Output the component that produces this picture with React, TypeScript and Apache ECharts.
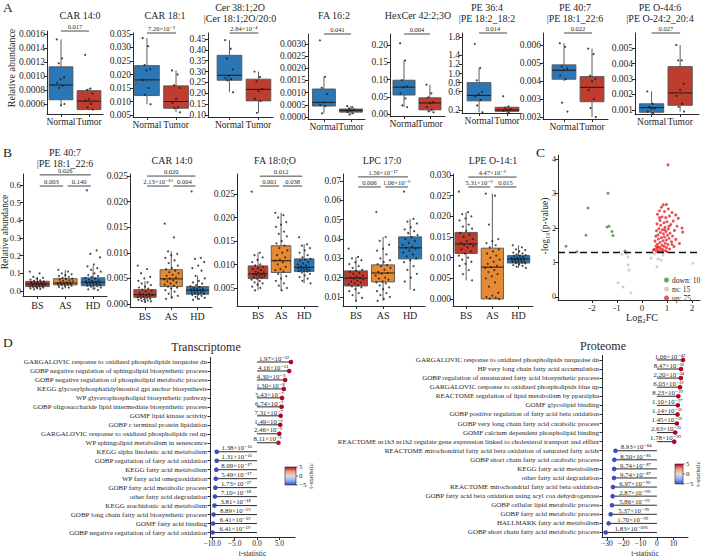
import React, { useEffect, useRef } from "react";
import * as echarts from "echarts";

const FONT = '"Liberation Serif", "Times New Roman", "DejaVu Serif", serif';
const INK = "#1f1f1f";
const AXIS = "#2b2b2b";

// ---------------- Panel A ----------------
const A_CATS = ["Normal", "Tumor"];
const A_FILL = ["#2b77b5", "#be3d2e"];

const A1_TITLE = ["CAR 14:0"];
const A1_TICKS = [0.0006, 0.0008, 0.001, 0.0012, 0.0014, 0.0016];
const A1_BOX = [[0.00058, 0.00066, 0.00087, 0.00113, 0.00152], [0.00051, 0.00052, 0.00064, 0.00079, 0.00082]];
const A1_PTS = [[0.00152, 0.00125, 0.00118, 0.00098, 0.00095, 0.0009, 0.00086, 0.00083, 0.0006, 0.00058], [0.0013, 0.00082, 0.0008, 0.00075, 0.00067, 0.00065, 0.0006, 0.00055, 0.00052]];
const A1_P = "0.017";

const A2_TITLE = ["CAR 18:1"];
const A2_TICKS = [0.005, 0.01, 0.015, 0.02, 0.025, 0.03, 0.035];
const A2_BOX = [[0.009, 0.0122, 0.018, 0.0233, 0.0335], [0.006, 0.0075, 0.01, 0.0158, 0.0215]];
const A2_PTS = [[0.0335, 0.0305, 0.0235, 0.022, 0.0215, 0.018, 0.015, 0.0125, 0.009], [0.0215, 0.02, 0.016, 0.015, 0.011, 0.0095, 0.0078, 0.0075, 0.006]];
const A2_P = "7.26×10⁻³";

const A3_TITLE = ["Cer 38:1;2O", "|Cer 18:1;2O/20:0"];
const A3_TICKS = [0.1, 0.15, 0.2, 0.25, 0.3, 0.35, 0.4, 0.45];
const A3_BOX = [[0.205, 0.26, 0.283, 0.375, 0.445], [0.11, 0.165, 0.218, 0.265, 0.3]];
const A3_PTS = [[0.445, 0.405, 0.36, 0.31, 0.28, 0.27, 0.265, 0.26, 0.205], [0.3, 0.275, 0.255, 0.22, 0.21, 0.175, 0.165, 0.11]];
const A3_P = "2.84×10⁻⁴";

const A4_TITLE = ["FA 16:2"];
const A4_TICKS = [0, 0.0005, 0.001, 0.0015, 0.002, 0.0025, 0.003];
const A4_BOX = [[0.00015, 0.00045, 0.0006, 0.00115, 0.00165], [0.0001, 0.0002, 0.00027, 0.00033, 0.00045]];
const A4_PTS = [[0.00315, 0.00165, 0.0012, 0.00095, 0.0006, 0.0005, 0.00045, 0.00015], [0.00045, 0.0004, 0.00035, 0.0003, 0.00027, 0.0002, 0.00015, 0.0001]];
const A4_P = "0.041";

const A5_TITLE = ["HexCer 42:2;3O"];
const A5_TICKS = [0, 0.05, 0.1, 0.15, 0.2];
const A5_BOX = [[0.02, 0.055, 0.078, 0.098, 0.155], [0.005, 0.012, 0.032, 0.047, 0.085]];
const A5_PTS = [[0.205, 0.155, 0.098, 0.08, 0.078, 0.06, 0.045, 0.025, 0.02], [0.085, 0.06, 0.048, 0.035, 0.032, 0.02, 0.012, 0.008, 0.005]];
const A5_P = "0.004";

const A6_TITLE = ["PE 36:4", "|PE 18:2_18:2"];
const A6_TICKS = [0.2, 0.4, 0.6, 0.8, 1.0, 1.2, 1.4, 1.6, 1.8];
const A6_BOX = [[0.15, 0.4, 0.52, 0.8, 1.12], [0.12, 0.17, 0.2, 0.26, 0.28]];
const A6_PTS = [[1.65, 1.12, 0.85, 0.6, 0.55, 0.5, 0.42, 0.3, 0.15], [0.5, 0.28, 0.25, 0.22, 0.2, 0.18, 0.15, 0.12]];
const A6_P = "0.014";

const A7_TITLE = ["PE 40:7", "|PE 18:1_22:6"];
const A7_TICKS = [0.002, 0.003, 0.004, 0.005, 0.006];
const A7_BOX = [[0.004, 0.0041, 0.0046, 0.0049, 0.0061], [0.002, 0.00285, 0.00365, 0.00425, 0.0058]];
const A7_PTS = [[0.0061, 0.0059, 0.0048, 0.0047, 0.0046, 0.0043, 0.0041, 0.0028, 0.0023], [0.0058, 0.0055, 0.0043, 0.0041, 0.004, 0.0035, 0.003, 0.0025, 0.002]];
const A7_P = "0.022";

const A8_TITLE = ["PE O-44:6", "|PE O-24:2_20:4"];
const A8_TICKS = [0.001, 0.002, 0.003, 0.004, 0.005];
const A8_BOX = [[0.0006, 0.00085, 0.00115, 0.0014, 0.0022], [0.0009, 0.0013, 0.0021, 0.0038, 0.0052]];
const A8_PTS = [[0.0022, 0.0014, 0.0012, 0.0011, 0.0011, 0.0009, 0.0008, 0.0006], [0.0052, 0.0042, 0.0042, 0.0027, 0.0023, 0.0019, 0.0014, 0.0012, 0.0009]];
const A8_P = "0.027";

// ---------------- Panel B ----------------
const B_CATS = ["BS", "AS", "HD"];
const B_FILL = ["#be3d2e", "#e68a33", "#2b77b5"];

const B1_TITLE = ["PE 40:7", "|PE 18:1_22:6"];
const B1_TICKS = [0, 0.1, 0.2, 0.3, 0.4, 0.5, 0.6];
const B1_BOX = [[0.01, 0.025, 0.04, 0.055, 0.08], [0.015, 0.035, 0.045, 0.07, 0.12], [0.005, 0.03, 0.05, 0.075, 0.14]];
const B1_PTS = [
  [0.11, 0.1, 0.08, 0.075, 0.07, 0.065, 0.06, 0.058, 0.055, 0.052, 0.05, 0.048, 0.045, 0.043, 0.042, 0.04, 0.04, 0.038, 0.036, 0.035, 0.033, 0.03, 0.028, 0.026, 0.025, 0.022, 0.02, 0.018, 0.015, 0.012, 0.01],
  [0.12, 0.11, 0.1, 0.095, 0.09, 0.085, 0.08, 0.075, 0.07, 0.068, 0.065, 0.06, 0.058, 0.055, 0.052, 0.05, 0.048, 0.046, 0.045, 0.044, 0.042, 0.04, 0.038, 0.036, 0.035, 0.033, 0.03, 0.027, 0.024, 0.02, 0.015],
  [0.57, 0.23, 0.21, 0.19, 0.15, 0.14, 0.13, 0.12, 0.11, 0.1, 0.09, 0.085, 0.08, 0.075, 0.07, 0.065, 0.06, 0.058, 0.055, 0.052, 0.05, 0.048, 0.045, 0.042, 0.04, 0.038, 0.035, 0.032, 0.03, 0.028, 0.025, 0.02, 0.015, 0.01, 0.005],
];
const B1_SIG = [[0, 2, 0.657, "0.026"], [0, 1, 0.594, "0.003"], [1, 2, 0.594, "0.140"]];

const B2_TITLE = ["CAR 14:0"];
const B2_TICKS = [0, 0.005, 0.01, 0.015, 0.02, 0.025];
const B2_BOX = [[0.0004, 0.0013, 0.0018, 0.0028, 0.0045], [0.001, 0.0034, 0.0049, 0.0067, 0.0103], [0.0008, 0.0019, 0.0027, 0.0034, 0.0055]];
const B2_PTS = [
  [0.0075, 0.0068, 0.006, 0.0053, 0.005, 0.0045, 0.0042, 0.004, 0.0037, 0.0034, 0.0032, 0.003, 0.0028, 0.0026, 0.0024, 0.0022, 0.002, 0.0019, 0.0018, 0.0017, 0.0016, 0.0015, 0.0014, 0.0013, 0.0012, 0.0011, 0.001, 0.0009, 0.0008, 0.0007, 0.0006, 0.0005, 0.0004],
  [0.0157, 0.013, 0.0103, 0.0098, 0.0095, 0.009, 0.0085, 0.008, 0.0075, 0.007, 0.0068, 0.0065, 0.0062, 0.006, 0.0057, 0.0055, 0.0052, 0.005, 0.0048, 0.0046, 0.0044, 0.0042, 0.004, 0.0038, 0.0036, 0.0034, 0.0032, 0.003, 0.0027, 0.0024, 0.002, 0.0016, 0.0013, 0.001],
  [0.022, 0.009, 0.0088, 0.0082, 0.0075, 0.007, 0.0065, 0.0055, 0.005, 0.0045, 0.0042, 0.004, 0.0037, 0.0035, 0.0033, 0.0031, 0.003, 0.0029, 0.0028, 0.0027, 0.0026, 0.0025, 0.0024, 0.0023, 0.0022, 0.0021, 0.002, 0.0019, 0.0018, 0.0016, 0.0014, 0.0012, 0.001, 0.0008],
];
const B2_SIG = [[0, 2, 0.025, "0.020"], [0, 1, 0.02305, "2.13×10⁻¹⁰"], [1, 2, 0.02305, "0.004"]];

const B3_TITLE = ["FA 18:0;O"];
const B3_TICKS = [0.005, 0.01, 0.015, 0.02, 0.025];
const B3_BOX = [[0.0045, 0.007, 0.008, 0.0097, 0.0125], [0.0045, 0.0083, 0.0108, 0.014, 0.021], [0.006, 0.0085, 0.0094, 0.0112, 0.0143]];
const B3_PTS = [
  [0.0255, 0.0125, 0.012, 0.0115, 0.011, 0.0105, 0.01, 0.0098, 0.0095, 0.0092, 0.009, 0.0088, 0.0085, 0.0083, 0.0082, 0.008, 0.0079, 0.0078, 0.0076, 0.0075, 0.0073, 0.0072, 0.007, 0.0068, 0.0065, 0.0062, 0.006, 0.0057, 0.0053, 0.005, 0.0045],
  [0.021, 0.0205, 0.02, 0.019, 0.0185, 0.018, 0.017, 0.0165, 0.016, 0.015, 0.0145, 0.014, 0.0135, 0.013, 0.0125, 0.012, 0.0115, 0.011, 0.0108, 0.0105, 0.01, 0.0095, 0.009, 0.0088, 0.0085, 0.008, 0.0075, 0.007, 0.0065, 0.006, 0.0055, 0.005, 0.0045],
  [0.0158, 0.0143, 0.014, 0.0135, 0.013, 0.0125, 0.012, 0.0115, 0.0112, 0.011, 0.0108, 0.0105, 0.0102, 0.01, 0.0098, 0.0096, 0.0094, 0.0093, 0.0092, 0.009, 0.0089, 0.0088, 0.0087, 0.0086, 0.0085, 0.0083, 0.008, 0.0077, 0.0073, 0.007, 0.0065, 0.006],
];
const B3_SIG = [[0, 2, 0.0288, "0.012"], [0, 1, 0.0267, "0.001"], [1, 2, 0.0267, "0.038"]];

const B4_TITLE = ["LPC 17:0"];
const B4_TICKS = [0.01, 0.02, 0.03, 0.04, 0.05, 0.06, 0.07];
const B4_BOX = [[0.008, 0.0157, 0.0198, 0.0235, 0.0307], [0.008, 0.0178, 0.0224, 0.0266, 0.041], [0.0137, 0.0297, 0.0354, 0.0411, 0.0504]];
const B4_PTS = [
  [0.035, 0.0307, 0.03, 0.029, 0.028, 0.027, 0.026, 0.025, 0.024, 0.0235, 0.023, 0.0225, 0.022, 0.021, 0.0205, 0.02, 0.0198, 0.0195, 0.019, 0.0185, 0.018, 0.0175, 0.017, 0.0165, 0.016, 0.0155, 0.015, 0.014, 0.013, 0.012, 0.011, 0.0095, 0.008],
  [0.054, 0.041, 0.039, 0.037, 0.035, 0.034, 0.032, 0.03, 0.029, 0.028, 0.027, 0.0265, 0.026, 0.025, 0.024, 0.023, 0.0225, 0.022, 0.021, 0.02, 0.0195, 0.019, 0.018, 0.0175, 0.017, 0.016, 0.015, 0.014, 0.013, 0.012, 0.011, 0.01, 0.009, 0.008],
  [0.0645, 0.0504, 0.049, 0.048, 0.046, 0.045, 0.044, 0.043, 0.042, 0.041, 0.04, 0.039, 0.038, 0.037, 0.036, 0.0355, 0.035, 0.034, 0.033, 0.032, 0.031, 0.03, 0.029, 0.028, 0.026, 0.024, 0.022, 0.02, 0.018, 0.0137],
];
const B4_SIG = [[0, 2, 0.0721, "1.56×10⁻¹⁷"], [0, 1, 0.0669, "0.006"], [1, 2, 0.0669, "1.06×10⁻⁹"]];

const B5_TITLE = ["LPE O-14:1"];
const B5_TICKS = [0, 0.005, 0.01, 0.015, 0.02, 0.025, 0.03];
const B5_BOX = [[0.0045, 0.011, 0.0133, 0.0161, 0.021], [0, 0, 0.0077, 0.0123, 0.0255], [0.0075, 0.0087, 0.0097, 0.0105, 0.013]];
const B5_PTS = [
  [0.026, 0.021, 0.0205, 0.02, 0.0195, 0.019, 0.018, 0.0175, 0.017, 0.0165, 0.016, 0.0155, 0.015, 0.0145, 0.014, 0.0135, 0.0133, 0.013, 0.0128, 0.0125, 0.012, 0.0115, 0.011, 0.0105, 0.01, 0.0095, 0.009, 0.0085, 0.008, 0.007, 0.006, 0.0045],
  [0.0255, 0.025, 0.018, 0.0145, 0.014, 0.0135, 0.013, 0.0125, 0.012, 0.0115, 0.011, 0.0105, 0.01, 0.0095, 0.009, 0.0085, 0.008, 0.0077, 0.0075, 0.007, 0.0065, 0.006, 0.0055, 0.005, 0.004, 0.003, 0.0015, 0.0008, 0.0005, 0.0003, 0.0001, 0],
  [0.013, 0.0125, 0.012, 0.0118, 0.0115, 0.0112, 0.011, 0.0108, 0.0106, 0.0105, 0.0104, 0.0102, 0.01, 0.0099, 0.0098, 0.0097, 0.0096, 0.0095, 0.0094, 0.0093, 0.0092, 0.0091, 0.009, 0.0089, 0.0088, 0.0087, 0.0086, 0.0084, 0.0082, 0.008, 0.0078, 0.0075],
];
const B5_SIG = [[0, 2, 0.0295, "4.47×10⁻⁹"], [0, 1, 0.0271, "5.31×10⁻⁹"], [1, 2, 0.0271, "0.015"]];

// ---------------- Panel C (volcano) ----------------
const VOL_XTICKS = [-2, -1, 0, 1, 2];
const VOL_YTICKS = [0, 1, 2, 3, 4];
const P_THRESHOLD = 0.05;
const VOL_DOWN = [[-2.16, 2.58], [-1.36, 3.01], [-1.4, 2.03], [-1.32, 2.05], [-1.2, 1.9], [-1.16, 1.78], [-2.24, 1.79], [-3.04, 1.47], [-2.6, 1.31], [-0.68, 1.33]];
const VOL_NS = [[-0.8, 1.24], [-0.56, 1.16], [-0.56, 0.93], [-0.52, 0.78], [-0.96, 0.41], [-0.76, 0.29], [-0.44, 0.12], [0.36, 1.13], [0.6, 0.88], [0.64, 1.1], [0.76, 1.07], [0.84, 1.22], [2.04, 0.98], [-0.62, 1.26], [0.5, 1.25]];
const VOL_UP = [
  [1.04, 3.83], [0.85, 2.67], [0.98, 2.68], [0.78, 2.6], [1.05, 2.55], [0.7, 2.5], [1.2, 2.45], [0.9, 2.48], [1.35, 2.38], [0.62, 2.4],
  [1.1, 2.35], [0.8, 2.32], [0.95, 2.3], [1.45, 2.28], [0.72, 2.22], [1.25, 2.2], [1.0, 2.18], [0.88, 2.15], [0.6, 2.12], [1.15, 2.1],
  [0.75, 2.08], [1.4, 2.05], [1.6, 2.0], [0.92, 2.02], [0.68, 1.98], [1.05, 1.97], [0.82, 1.95], [1.3, 1.93], [0.58, 1.92], [0.96, 1.9],
  [1.63, 1.88], [0.74, 1.87], [1.12, 1.85], [0.86, 1.83], [0.64, 1.8], [1.02, 1.79], [1.22, 1.77], [0.55, 1.76], [0.9, 1.74], [0.78, 1.72],
  [1.08, 1.7], [0.66, 1.68], [1.35, 1.67], [0.97, 1.65], [0.84, 1.63], [0.52, 1.62], [1.18, 1.6], [0.72, 1.58], [0.93, 1.56], [1.5, 1.55],
  [0.62, 1.53], [1.04, 1.52], [0.8, 1.5], [0.56, 1.48], [0.88, 1.47], [1.28, 1.46], [0.7, 1.44], [0.98, 1.43], [0.6, 1.41], [0.76, 1.4],
  [1.1, 1.39], [0.5, 1.38], [0.84, 1.37], [0.66, 1.35], [0.94, 1.34], [0.58, 1.33], [0.73, 1.32], [0.46, 1.36], [0.82, 1.31], [1.0, 1.31],
  [0.64, 1.45], [1.2, 1.52], [0.9, 1.95], [0.7, 2.3], [1.08, 2.05],
];

// ---------------- Panel D ----------------
const T_LABELS = [
  "GARGALOVIC response to oxidized phospholipids turquoise dn",
  "GOBP negative regulation of sphingolipid biosynthetic process",
  "GOBP negative regulation of phospholipid metabolic process",
  "KEGG glycosylphosphatidylinositol gpi anchor biosynthesis",
  "WP glycerophospholipid biosynthetic pathway",
  "GOBP oligosaccharide lipid intermediate biosynthetic process",
  "GOMF lipid kinase activity",
  "GOBP c terminal protein lipidation",
  "GARGALOVIC response to oxidized phospholipids red up",
  "WP sphingolipid metabolism in senescence",
  "KEGG alpha linolenic acid metabolism",
  "GOBP regulation of fatty acid oxidation",
  "KEGG fatty acid metabolism",
  "WP fatty acid omegaoxidation",
  "GOBP fatty acid metabolic process",
  "other fatty acid degradation",
  "KEGG arachidonic acid metabolism",
  "GOBP long chain fatty acid biosynthetic process",
  "GOMF fatty acid binding",
  "GOBP negative regulation of fatty acid oxidation",
];
const T_TSTAT = [7.6, 7.2, 6.3, 6.0, 5.6, 5.5, 5.3, 5.2, 5.0, 4.8, -9.0, -9.0, -9.1, -9.2, -9.3, -9.4, -9.5, -9.7, -9.8, -9.9];
const T_PVAL = ["1.97×10⁻¹²", "4.16×10⁻¹¹", "4.30×10⁻⁹", "1.30×10⁻⁸", "5.43×10⁻⁷", "6.74×10⁻⁷", "7.31×10⁻⁷", "1.49×10⁻⁶", "2.46×10⁻⁶", "8.11×10⁻⁶", "1.38×10⁻¹⁶", "1.31×10⁻¹⁶", "8.09×10⁻¹⁷", "5.49×10⁻¹⁷", "1.73×10⁻¹⁷", "7.10×10⁻¹⁸", "3.81×10⁻¹⁸", "8.89×10⁻¹⁹", "6.41×10⁻¹⁹", "6.41×10⁻¹⁹"];
const T_XTICKS = [-10, -5, 0, 5];

const P_LABELS = [
  "GARGALOVIC response to oxidized phospholipids turquoise dn",
  "HP very long chain fatty acid accumulation",
  "GOBP regulation of unsaturated fatty acid biosynthetic process",
  "GARGALOVIC response to oxidized phospholipids blue up",
  "REACTOME regulation of lipid metabolism by pparalpha",
  "GOMF glycolipid binding",
  "GOBP positive regulation of fatty acid beta oxidation",
  "GOBP very long chain fatty acid catabolic process",
  "GOMF calcium dependent phospholipid binding",
  "REACTOME nr1h3 nr1h2 regulate gene expression linked to cholesterol transport and efflux",
  "REACTOME mitochondrial fatty acid beta oxidation of saturated fatty acids",
  "GOBP short chain fatty acid catabolic process",
  "KEGG fatty acid metabolism",
  "other fatty acid degradation",
  "REACTOME mitochondrial fatty acid beta oxidation",
  "GOBP fatty acid beta oxidation using acyl coa dehydrogenase",
  "GOBP cellular lipid metabolic process",
  "GOBP fatty acid metabolic process",
  "HALLMARK fatty acid metabolism",
  "GOBP short chain fatty acid metabolic process",
];
const P_TSTAT = [15.7, 14.5, 14.4, 13.9, 12.9, 12.6, 12.4, 12.0, 11.0, 10.4, -24.9, -25.6, -25.7, -25.8, -26.4, -26.6, -27.0, -27.8, -29.0, -30.8];
const P_PVAL = ["1.06×10⁻⁴²", "8.47×10⁻³⁶", "2.20×10⁻³⁴", "6.03×10⁻³²", "8.23×10⁻²⁹", "1.10×10⁻²⁷", "1.14×10⁻²⁶", "1.45×10⁻²⁵", "2.63×10⁻²¹", "1.78×10⁻²⁰", "8.93×10⁻⁸⁴", "8.50×10⁻⁸⁶", "9.74×10⁻⁸⁷", "9.74×10⁻⁸⁷", "6.97×10⁻⁹⁰", "2.87×10⁻⁹⁰", "5.86×10⁻⁹²", "5.37×10⁻⁹⁵", "1.70×10⁻⁹⁹", "1.83×10⁻¹⁰⁶"];
const P_XTICKS = [-30, -20, -10, 0, 10];

const CB_TICKS = [5, 0, -5];

// ---------------- helpers ----------------
const CW_STOPS = [[59, 76, 192], [98, 130, 234], [141, 176, 254], [184, 208, 249], [221, 221, 221], [245, 196, 173], [244, 154, 123], [222, 96, 77], [180, 4, 38]];
function coolwarm(t: number) {
  const u = Math.max(0, Math.min(1, (t + 5) / 10)) * (CW_STOPS.length - 1);
  const i = Math.min(CW_STOPS.length - 2, Math.floor(u));
  const f = u - i;
  const c = CW_STOPS[i].map((v, k) => Math.round(v + (CW_STOPS[i + 1][k] - v) * f));
  return `rgb(${c[0]},${c[1]},${c[2]})`;
}
const minus = (v: number, d = 0) => (v < 0 ? "−" : "") + Math.abs(v).toFixed(d);
const jitter = (k: number, w: number) => ((((k * 37) % 23) / 22) - 0.5) * w;

function txt(x: number, y: number, text: string, size: number, extra: any = {}) {
  return {
    type: "text",
    x,
    y,
    rotation: extra.rotation || 0,
    silent: true,
    style: {
      text,
      fontSize: size,
      fontFamily: FONT,
      fill: extra.fill || INK,
      align: extra.align || "center",
      verticalAlign: extra.verticalAlign || "middle",
      fontWeight: extra.fontWeight || "normal",
    },
  };
}

function buildOption() {
  const grid: any[] = [];
  const xAxis: any[] = [];
  const yAxis: any[] = [];
  const series: any[] = [];
  const graphic: any[] = [];

  const axisCommon = {
    axisLine: { show: true, onZero: false, lineStyle: { color: AXIS, width: 1 } },
    splitLine: { show: false },
  };

  const addBoxPanel = (p: any) => {
    const gi = grid.length;
    grid.push({ left: p.left, top: p.top, width: p.width, height: p.height });
    const idx = p.cats.map((_: any, i: number) => i);
    xAxis.push({
      gridIndex: gi, type: "value", min: p.xmin, max: p.xmax, ...axisCommon,
      axisTick: { show: true, customValues: idx, length: 3, lineStyle: { color: AXIS } },
      axisLabel: { show: false },
    });
    yAxis.push({
      gridIndex: gi, type: "value", min: p.ymin, max: p.ymax, ...axisCommon,
      axisTick: { show: true, customValues: p.ticks, length: 3, lineStyle: { color: AXIS } },
      axisLabel: {
        customValues: p.ticks, showMinLabel: true, showMaxLabel: true,
        formatter: (v: number) => v.toFixed(p.dec), fontFamily: FONT, fontSize: p.yFont || 9.5, color: INK, margin: 2,
      },
    });
    // category labels, placed through the axes
    series.push({
      type: "custom", xAxisIndex: gi, yAxisIndex: gi, silent: true, clip: false, z: 5,
      data: idx.map((i: number) => [i, p.ymin]),
      renderItem: (params: any, api: any) => {
        const c = api.coord([api.value(0), api.value(1)]);
        return {
          type: "text", x: c[0], y: c[1] + p.xGap,
          style: { text: p.cats[params.dataIndex], fontSize: p.xFont, fontFamily: FONT, fill: INK, align: "center", verticalAlign: "top" },
        };
      },
    });
    const bw = p.boxW;
    series.push({
      type: "custom", xAxisIndex: gi, yAxisIndex: gi, z: 2, silent: true,
      data: p.box.map((s: number[], i: number) => [i, ...s]),
      renderItem: (params: any, api: any) => {
        const i = api.value(0);
        const lo = api.coord([i, api.value(1)]);
        const q1 = api.coord([i, api.value(2)]);
        const md = api.coord([i, api.value(3)]);
        const q3 = api.coord([i, api.value(4)]);
        const hi = api.coord([i, api.value(5)]);
        const w = api.size([bw, 0])[0];
        const x = md[0];
        return {
          type: "group",
          children: [
            { type: "line", shape: { x1: x, y1: hi[1], x2: x, y2: q3[1] }, style: { stroke: "#333", lineWidth: 0.8 } },
            { type: "line", shape: { x1: x, y1: q1[1], x2: x, y2: lo[1] }, style: { stroke: "#333", lineWidth: 0.8 } },
            { type: "rect", shape: { x: x - w / 2, y: q3[1], width: w, height: Math.max(0.5, q1[1] - q3[1]) }, style: { fill: p.fill[i], stroke: "#555", lineWidth: 0.9 } },
            { type: "line", shape: { x1: x - w / 2, y1: md[1], x2: x + w / 2, y2: md[1] }, style: { stroke: "#1a1a1a", lineWidth: 1 } },
          ],
        };
      },
    });
    const pts: number[][] = [];
    p.pts.forEach((arr: number[], g: number) => arr.forEach((v, k) => pts.push([g + jitter(k + g * 5, p.jit), v])));
    series.push({
      type: "scatter", xAxisIndex: gi, yAxisIndex: gi, z: 3, silent: true,
      symbolSize: p.dot, itemStyle: { color: "#1a1a1a" }, data: pts,
    });
    const sh = p.shrink;
    series.push({
      type: "custom", xAxisIndex: gi, yAxisIndex: gi, z: 4, silent: true, clip: false,
      data: p.sig.map((s: any[]) => [s[0], s[1], s[2]]),
      renderItem: (params: any, api: any) => {
        const y = api.value(2);
        const a = api.coord([api.value(0) + sh, y]);
        const b = api.coord([api.value(1) - sh, y]);
        return {
          type: "group",
          children: [
            { type: "line", shape: { x1: a[0], y1: a[1], x2: b[0], y2: b[1] }, style: { stroke: "#333", lineWidth: 0.9 } },
            { type: "text", x: (a[0] + b[0]) / 2, y: a[1] - 0.8, style: { text: p.sig[params.dataIndex][3], fontSize: 6.5, fontFamily: FONT, fill: INK, align: "center", verticalAlign: "bottom" } },
          ],
        };
      },
    });
    p.title.forEach((t: string, k: number) => {
      graphic.push(txt(p.tx, p.title.length === 2 ? p.ty2[k] : p.ty1, t, 10));
    });
  };

  // ----- Panel A -----
  const aBase = { cats: A_CATS, fill: A_FILL, boxW: 0.85, jit: 0.3, dot: 2.2, shrink: 0, xFont: 9.5, xGap: 3, ty1: 15, ty2: [7, 18.5] };
  const A_LAYOUT = [
    { left: 47, top: 31, width: 56, height: 83, xmin: -0.5, xmax: 1.5, ymin: 0.000457, ymax: 0.00164, tx: 80, dec: 4 },
    { left: 133, top: 33, width: 57, height: 84, xmin: -0.48, xmax: 1.48, ymin: 0.00426, ymax: 0.03537, tx: 165, dec: 3 },
    { left: 208, top: 33, width: 65, height: 84, xmin: -0.74, xmax: 1.5, ymin: 0.0908, ymax: 0.4777, tx: 240, dec: 2 },
    { left: 308, top: 34, width: 57, height: 85, xmin: -0.59, xmax: 1.52, ymin: -0.000082, ymax: 0.00341, tx: 334, dec: 4 },
    { left: 390, top: 34, width: 55, height: 82, xmin: -0.54, xmax: 1.58, ymin: -0.0058, ymax: 0.232, tx: 418, dec: 2 },
    { left: 462, top: 33, width: 59, height: 80, xmin: -0.61, xmax: 1.5, ymin: 0.134, ymax: 1.888, tx: 487, dec: 1 },
    { left: 543, top: 33, width: 65, height: 86, xmin: -0.75, xmax: 1.57, ymin: 0.00189, ymax: 0.00667, tx: 575, dec: 3 },
    { left: 635, top: 33, width: 64, height: 81, xmin: -0.58, xmax: 1.66, ymin: 0.00074, ymax: 0.00597, tx: 660, dec: 3 },
  ];
  const A_DATA = [
    { title: A1_TITLE, ticks: A1_TICKS, box: A1_BOX, pts: A1_PTS, p: A1_P },
    { title: A2_TITLE, ticks: A2_TICKS, box: A2_BOX, pts: A2_PTS, p: A2_P },
    { title: A3_TITLE, ticks: A3_TICKS, box: A3_BOX, pts: A3_PTS, p: A3_P },
    { title: A4_TITLE, ticks: A4_TICKS, box: A4_BOX, pts: A4_PTS, p: A4_P },
    { title: A5_TITLE, ticks: A5_TICKS, box: A5_BOX, pts: A5_PTS, p: A5_P },
    { title: A6_TITLE, ticks: A6_TICKS, box: A6_BOX, pts: A6_PTS, p: A6_P },
    { title: A7_TITLE, ticks: A7_TICKS, box: A7_BOX, pts: A7_PTS, p: A7_P },
    { title: A8_TITLE, ticks: A8_TICKS, box: A8_BOX, pts: A8_PTS, p: A8_P },
  ];
  A_DATA.forEach((d, i) => {
    const L = A_LAYOUT[i];
    addBoxPanel({ ...aBase, ...L, ...d, sig: [[0, 1, L.ymax, d.p]] });
  });

  // ----- Panel B -----
  const bBase = { cats: B_CATS, fill: B_FILL, boxW: 0.85, jit: 0.55, dot: 2, shrink: 0.08, xFont: 10, xGap: 4, ty1: 160, ty2: [152, 163] };
  const B_LAYOUT = [
    { left: 23, top: 174, width: 84, height: 122, xmin: -0.52, xmax: 2.5, ymin: -0.028, ymax: 0.662, tx: 65, dec: 1, yFont: 9 },
    { left: 130, top: 174, width: 82, height: 133, xmin: -0.57, xmax: 2.55, ymin: -0.00059, ymax: 0.0254, tx: 172, dec: 3 },
    { left: 237, top: 174, width: 81, height: 132, xmin: -0.91, xmax: 2.6, ymin: 0.00117, ymax: 0.02926, tx: 275, dec: 3 },
    { left: 343, top: 174, width: 82, height: 132, xmin: -0.48, xmax: 2.55, ymin: 0.00534, ymax: 0.0736, tx: 382, dec: 2 },
    { left: 453, top: 174, width: 80, height: 132, xmin: -0.5, xmax: 2.55, ymin: -0.0017, ymax: 0.03024, tx: 493, dec: 3 },
  ];
  const B_DATA = [
    { title: B1_TITLE, ticks: B1_TICKS, box: B1_BOX, pts: B1_PTS, sig: B1_SIG },
    { title: B2_TITLE, ticks: B2_TICKS, box: B2_BOX, pts: B2_PTS, sig: B2_SIG },
    { title: B3_TITLE, ticks: B3_TICKS, box: B3_BOX, pts: B3_PTS, sig: B3_SIG },
    { title: B4_TITLE, ticks: B4_TICKS, box: B4_BOX, pts: B4_PTS, sig: B4_SIG },
    { title: B5_TITLE, ticks: B5_TICKS, box: B5_BOX, pts: B5_PTS, sig: B5_SIG },
  ];
  B_DATA.forEach((d, i) => addBoxPanel({ ...bBase, ...B_LAYOUT[i], ...d }));

  // ----- Panel C -----
  const gc = grid.length;
  grid.push({ left: 558, top: 155, width: 142, height: 145 });
  xAxis.push({
    gridIndex: gc, type: "value", min: -3.36, max: 2.32, ...axisCommon,
    axisTick: { show: true, customValues: VOL_XTICKS, length: 3, lineStyle: { color: AXIS } },
    axisLabel: { customValues: VOL_XTICKS, fontFamily: FONT, fontSize: 9, color: INK, margin: 3 },
  });
  yAxis.push({
    gridIndex: gc, type: "value", min: -0.087, max: 4.116, ...axisCommon,
    axisTick: { show: true, customValues: VOL_YTICKS, length: 3, lineStyle: { color: AXIS } },
    axisLabel: { customValues: VOL_YTICKS, fontFamily: FONT, fontSize: 8, color: INK, margin: 2 },
  });
  const volSeries = [
    { name: "down", data: VOL_DOWN, color: "#3a923a" },
    { name: "ns", data: VOL_NS, color: "#c4c4c4" },
    { name: "up", data: VOL_UP, color: "#e3262b" },
  ];
  volSeries.forEach((s, k) => {
    series.push({
      type: "scatter", name: s.name, xAxisIndex: gc, yAxisIndex: gc, symbolSize: 3,
      itemStyle: { color: s.color }, data: s.data, silent: true,
      ...(k === 2
        ? {
            markLine: {
              silent: true, symbol: "none", label: { show: false },
              lineStyle: { type: [7, 4], color: "#111", width: 1.3 },
              data: [{ yAxis: -Math.log10(P_THRESHOLD) }],
            },
          }
        : {}),
    });
  });
  const counts: Record<string, number> = { down: VOL_DOWN.length, ns: VOL_NS.length, up: VOL_UP.length };

  // ----- Panel D -----
  const addLolli = (cfg: any) => {
    const gi = grid.length;
    grid.push({ left: cfg.left, top: cfg.top, width: cfg.width, height: cfg.height });
    xAxis.push({
      gridIndex: gi, type: "value", min: cfg.xmin, max: cfg.xmax, ...axisCommon,
      axisTick: { show: true, customValues: cfg.ticks, length: 3, lineStyle: { color: AXIS } },
      axisLabel: { customValues: cfg.ticks, formatter: (v: number) => minus(v, cfg.dec), fontFamily: FONT, fontSize: 7.5, color: INK, margin: 2 },
      name: "t-statistic", nameLocation: "middle", nameGap: 12,
      nameTextStyle: { fontFamily: FONT, fontSize: 7.5, color: INK },
    });
    yAxis.push({
      gridIndex: gi, type: "category", data: cfg.labels, inverse: true, ...axisCommon,
      axisTick: { show: true, length: 2.5, alignWithLabel: true, lineStyle: { color: AXIS } },
      axisLabel: { fontFamily: FONT, fontSize: 7, color: INK, margin: 3, interval: 0 },
    });
    series.push({
      type: "custom", xAxisIndex: gi, yAxisIndex: gi, silent: true, clip: false,
      data: cfg.t.map((t: number, i: number) => [t, i]),
      encode: { x: 0, y: 1 },
      renderItem: (params: any, api: any) => {
        const t = api.value(0);
        const row = params.dataIndex;
        const p0 = api.coord([0, row]);
        const p1 = api.coord([t, row]);
        return {
          type: "group",
          children: [
            { type: "line", shape: { x1: p0[0], y1: p0[1], x2: p1[0], y2: p1[1] }, style: { stroke: "#2a2a2a", lineWidth: 1 } },
            { type: "circle", shape: { cx: p1[0], cy: p1[1], r: 2.3 }, style: { fill: coolwarm(t) } },
            { type: "text", x: (p0[0] + p1[0]) / 2, y: p1[1] - 0.3, style: { text: cfg.p[row], fontSize: 6.8, fontFamily: FONT, fill: INK, align: "center", verticalAlign: "bottom" } },
          ],
        };
      },
    });
  };
  addLolli({ left: 210, top: 357.5, width: 85, height: 180, xmin: -10.5, xmax: 8.5, ticks: T_XTICKS, dec: 1, labels: T_LABELS, t: T_TSTAT, p: T_PVAL });
  addLolli({ left: 602, top: 355.4, width: 86, height: 182, xmin: -33, xmax: 18.7, ticks: P_XTICKS, dec: 0, labels: P_LABELS, t: P_TSTAT, p: P_PVAL });

  // colour bars
  const cbGrad = {
    type: "linear", x: 0, y: 0, x2: 0, y2: 1,
    colorStops: [
      { offset: 0, color: "#b40426" }, { offset: 0.25, color: "#f49a7b" }, { offset: 0.5, color: "#dddddd" },
      { offset: 0.75, color: "#8db0fe" }, { offset: 1, color: "#3b4cc0" },
    ],
  };
  const addCb = (x: number, y: number, w: number, h: number, lx: number, tx: number) => {
    graphic.push({ type: "rect", silent: true, shape: { x, y, width: w, height: h }, style: { fill: cbGrad, stroke: "#222", lineWidth: 0.6 } });
    CB_TICKS.forEach((v) => {
      const yy = y + ((5 - v) / 10) * h;
      graphic.push({ type: "line", silent: true, shape: { x1: x + w, y1: yy, x2: x + w + 2, y2: yy }, style: { stroke: "#222", lineWidth: 0.6 } });
      graphic.push(txt(lx, yy, minus(v), 7, { align: "left" }));
    });
    graphic.push(txt(tx, y + h / 2, "t-statistic", 7, { rotation: Math.PI / 2 }));
  };
  addCb(285, 467, 11, 18, 299, 311);
  addCb(675, 464, 8, 20, 686, 698);

  // panel letters, titles, axis names
  graphic.push(txt(3, 7, "A", 13.5, { align: "left" }));
  graphic.push(txt(3, 152, "B", 13.5, { align: "left" }));
  graphic.push(txt(536, 152, "C", 13.5, { align: "left" }));
  graphic.push(txt(3, 342, "D", 13.5, { align: "left" }));
  graphic.push(txt(11, 68, "Relative abundance", 10, { rotation: Math.PI / 2 }));
  graphic.push(txt(5, 232, "Relative abundance", 9.5, { rotation: Math.PI / 2 }));
  graphic.push(txt(545, 226, "-log₁₀(p-value)", 9.5, { rotation: Math.PI / 2 }));
  graphic.push(txt(642, 317, "Log₂FC", 10));
  graphic.push(txt(206, 347, "Transcriptome", 12));
  graphic.push(txt(603, 346, "Proteome", 12));

  return {
    animation: false,
    backgroundColor: "#ffffff",
    textStyle: { fontFamily: FONT },
    grid,
    xAxis,
    yAxis,
    series,
    graphic: { elements: graphic },
    legend: {
      data: ["down", "ns", "up"],
      orient: "vertical",
      left: 664,
      top: 276,
      padding: 0,
      itemGap: 1,
      itemWidth: 5,
      itemHeight: 5,
      icon: "circle",
      formatter: (name: string) => `${name}: ${counts[name]}`,
      textStyle: { fontFamily: FONT, fontSize: 7.5, color: INK, padding: [0, 0, 0, -2] },
      selectedMode: false,
    },
  };
}

export default function App() {
  const ref = useRef<HTMLDivElement>(null);
  useEffect(() => {
    if (!ref.current) return;
    const chart = echarts.init(ref.current, null, { renderer: "svg" });
    chart.setOption(buildOption() as any);
    return () => chart.dispose();
  }, []);
  return (
    <div
      ref={ref}
      style={{ position: "fixed", left: 0, top: 0, width: 702, height: 558, background: "#fff" }}
    />
  );
}
